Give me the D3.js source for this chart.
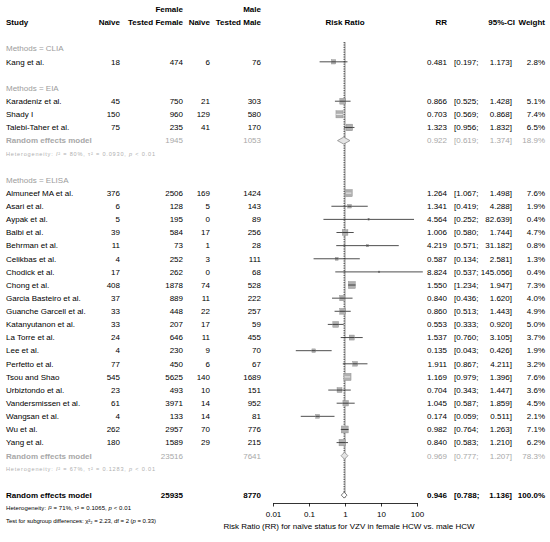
<!DOCTYPE html>
<html>
<head>
<meta charset="utf-8">
<script src="https://cdn.jsdelivr.net/npm/d3@7.9.0/dist/d3.min.js"></script>
<style>
  body { margin: 0; background: #fff; }
  svg { display: block; font-family: "Liberation Sans", Arial, sans-serif; }
</style>
</head>
<body>
<script>
// study level data
const studyNames = ["Kang et al.",
  "Karadeniz et al.", "Shady I", "Talebi-Taher et al.",
  "Almuneef MA et al.", "Asari et al.", "Aypak et al.", "Balbi et al.", "Behrman et al.",
  "Celikbas et al.", "Chodick et al.", "Chong et al.", "Garcia Basteiro et al.",
  "Guanche Garcell et al.", "Katanyutanon et al.", "La Torre et al.", "Lee et al.",
  "Perfetto et al.", "Tsou and Shao", "Urbiztondo et al.", "Vandersmissen et al.",
  "Wangsan et al.", "Wu et al.", "Yang et al."];
const studyMethod = ["CLIA", "EIA", "EIA", "EIA",
  "ELISA", "ELISA", "ELISA", "ELISA", "ELISA", "ELISA", "ELISA", "ELISA", "ELISA", "ELISA",
  "ELISA", "ELISA", "ELISA", "ELISA", "ELISA", "ELISA", "ELISA", "ELISA", "ELISA", "ELISA"];
const naiveFemale = [18, 45, 150, 75, 376, 6, 5, 39, 11, 4, 17, 408, 37, 33, 33, 24, 4, 77, 545, 23, 61, 4, 262, 180];
const testedFemale = [474, 750, 960, 235, 2506, 128, 195, 584, 73, 252, 262, 1878, 889, 448, 207, 646, 230, 450, 5625, 493, 3971, 133, 2957, 1589];
const naiveMale = [6, 21, 129, 41, 169, 5, 0, 17, 1, 3, 0, 74, 11, 22, 17, 11, 9, 6, 140, 10, 14, 14, 70, 29];
const testedMale = [76, 303, 580, 170, 1424, 143, 89, 256, 28, 111, 68, 528, 222, 257, 59, 455, 70, 67, 1689, 151, 952, 81, 776, 215];
const riskRatio = [0.481, 0.866, 0.703, 1.323, 1.264, 1.341, 4.564, 1.006, 4.219, 0.587, 8.824, 1.550,
  0.840, 0.860, 0.553, 1.537, 0.135, 1.911, 1.169, 0.704, 1.045, 0.174, 0.982, 0.840];
const ciLower = [0.197, 0.525, 0.569, 0.956, 1.067, 0.419, 0.252, 0.580, 0.571, 0.134, 0.537, 1.234,
  0.436, 0.513, 0.333, 0.760, 0.043, 0.867, 0.979, 0.343, 0.587, 0.059, 0.764, 0.583];
const ciUpper = [1.173, 1.428, 0.868, 1.832, 1.498, 4.288, 82.639, 1.744, 31.182, 2.581, 145.056, 1.947,
  1.620, 1.443, 0.920, 3.105, 0.426, 4.211, 1.396, 1.447, 1.859, 0.511, 1.263, 1.210];
const weightPct = [2.8, 5.1, 7.4, 6.5, 7.6, 1.9, 0.4, 4.7, 0.8, 1.3, 0.4, 7.3,
  4.0, 4.9, 5.0, 3.7, 1.9, 3.2, 7.6, 3.6, 4.5, 2.1, 7.1, 6.2];

// subgroup summaries (CLIA has a single study, no summary)
const methods = ["CLIA", "EIA", "ELISA"];
const subMethods = ["EIA", "ELISA"];
const subTestedFemale = [1945, 23516];
const subTestedMale = [1053, 7641];
const subRR = [0.922, 0.969];
const subLower = [0.619, 0.777];
const subUpper = [1.374, 1.207];
const subWeight = [18.9, 78.3];
const subI2 = ["80%", "67%"];
const subTau2 = ["0.0930", "0.1283"];

// overall random effects model
const overallTested = [25935, 8770];
const overallCI = [0.946, 0.788, 1.136];
const overallHet = ["71%", "0.1065"];
const subgroupTest = ["2.23", "2", "0.33"];

const tickValues = [0.01, 0.1, 1, 10, 100];

const width = 550, height = 542;
const svg = d3.select("body").append("svg")
  .attr("width", width)
  .attr("height", height);

const fmt3 = d3.format(".3f");
const fmtW = d => d3.format(".1f")(d) + "%";

// rows
const y = d3.scaleLinear().domain([0, 39]).range([9.3, 9.3 + 13.13 * 39]);
const x = d3.scaleLog().domain([0.01, 100]).range([273, 417]);

const col = { study: 6, nf: 120, tf: 183, nm: 210, tm: 261, rr: 447, lo: 454, up: 512, w: 545 };
const grayLabel = "#9c9c9c", grayRow = "#a8a8a8", grayHet = "#b0b0b0";

function txt(row, xpos, s, opt = {}) {
  return svg.append("text")
    .attr("x", xpos)
    .attr("y", y(row))
    .attr("dy", "0.35em")
    .attr("text-anchor", opt.anchor || "start")
    .attr("font-size", opt.size || 8)
    .attr("font-weight", opt.bold ? "bold" : null)
    .attr("fill", opt.color || "#000")
    .text(s);
}

// header
txt(0, col.tf, "Female", { anchor: "end", bold: true });
txt(0, col.tm, "Male", { anchor: "end", bold: true });
txt(1, col.study, "Study", { bold: true });
txt(1, col.nf, "Naïve", { anchor: "end", bold: true });
txt(1, col.tf, "Tested Female", { anchor: "end", bold: true });
txt(1, col.nm, "Naïve", { anchor: "end", bold: true });
txt(1, col.tm, "Tested Male", { anchor: "end", bold: true });
txt(1, x(1), "Risk Ratio", { anchor: "middle", bold: true });
txt(1, col.rr, "RR", { anchor: "end", bold: true });
txt(1, 515, "95%-CI", { anchor: "end", bold: true });
txt(1, col.w, "Weight", { anchor: "end", bold: true });

// reference lines
const plotTop = 42, plotBottom = 498;
svg.append("line")
  .attr("x1", x(1)).attr("x2", x(1))
  .attr("y1", plotTop).attr("y2", plotBottom)
  .attr("stroke", "#444").attr("stroke-width", 0.6);
svg.append("line")
  .attr("x1", x(overallCI[0])).attr("x2", x(overallCI[0]))
  .attr("y1", plotTop).attr("y2", plotBottom)
  .attr("stroke", "#000").attr("stroke-width", 0.8)
  .attr("stroke-dasharray", "1.2,1.2");

function ciText(row, est, lo, up, w, opt) {
  txt(row, col.rr, fmt3(est), { ...opt, anchor: "end" });
  txt(row, col.lo, "[" + fmt3(lo) + ";", opt);
  txt(row, col.up, fmt3(up) + "]", { ...opt, anchor: "end" });
  txt(row, col.w, fmtW(w), { ...opt, anchor: "end" });
}

function diamond(row, est, lo, up, h, stroke, fill) {
  const cy = y(row);
  const pts = [[x(lo), cy], [x(est), cy - h], [x(up), cy], [x(est), cy + h]];
  svg.append("path")
    .attr("d", d3.line()(pts) + "Z")
    .attr("fill", fill)
    .attr("stroke", stroke)
    .attr("stroke-width", 0.8);
}

function hetText(row, i2, tau2, color, size, len) {
  const t = svg.append("text")
    .attr("x", col.study).attr("y", y(row)).attr("dy", "0.35em")
    .attr("font-size", size).attr("fill", color)
    .attr("textLength", len).attr("lengthAdjust", "spacing");
  t.append("tspan").text("Heterogeneity: ");
  t.append("tspan").attr("font-style", "italic").text("I");
  t.append("tspan").text("² = " + i2 + ", τ² = " + tau2 + ", ");
  t.append("tspan").attr("font-style", "italic").text("p");
  t.append("tspan").text(" < 0.01");
}

const maxSide = 7.2;
let row = 3;
methods.forEach(m => {
  txt(row, col.study, "Methods = " + m, { color: grayLabel });
  row++;
  studyNames.forEach((name, i) => {
    if (studyMethod[i] !== m) return;
    txt(row, col.study, name);
    txt(row, col.nf, naiveFemale[i], { anchor: "end" });
    txt(row, col.tf, testedFemale[i], { anchor: "end" });
    txt(row, col.nm, naiveMale[i], { anchor: "end" });
    txt(row, col.tm, testedMale[i], { anchor: "end" });
    ciText(row, riskRatio[i], ciLower[i], ciUpper[i], weightPct[i], {});

    const cy = y(row), cx = x(riskRatio[i]);
    const side = maxSide * Math.sqrt(weightPct[i] / 7.6);
    const x0 = x(ciLower[i]), x1 = x(ciUpper[i]);
    const inside = x0 >= cx - side / 2 && x1 <= cx + side / 2;
    if (!inside) {
      svg.append("line")
        .attr("x1", x0).attr("x2", x1).attr("y1", cy).attr("y2", cy)
        .attr("stroke", "#222").attr("stroke-width", 0.8);
    }
    svg.append("rect")
      .attr("x", cx - side / 2).attr("y", cy - side / 2)
      .attr("width", side).attr("height", side)
      .attr("fill", "#b0b0b0").attr("stroke", "#8a8a8a").attr("stroke-width", 0.4);
    svg.append("line")
      .attr("x1", Math.max(x0, cx - side / 2)).attr("x2", Math.min(x1, cx + side / 2))
      .attr("y1", cy).attr("y2", cy)
      .attr("stroke", inside ? "#fff" : "#222").attr("stroke-width", 0.8);
    row++;
  });
  const k = subMethods.indexOf(m);
  if (k >= 0) {
    txt(row, col.study, "Random effects model", { color: grayRow, bold: true });
    txt(row, col.tf, subTestedFemale[k], { anchor: "end", color: grayRow });
    txt(row, col.tm, subTestedMale[k], { anchor: "end", color: grayRow });
    ciText(row, subRR[k], subLower[k], subUpper[k], subWeight[k], { color: grayRow });
    diamond(row, subRR[k], subLower[k], subUpper[k], 3.5, "#8c8c8c", "#e4e4e4");
    row++;
    hetText(row, subI2[k], subTau2[k], grayHet, 5.6, 149);
    row++;
  }
  row++;
});

// overall
txt(row, col.study, "Random effects model", { bold: true });
txt(row, col.tf, overallTested[0], { anchor: "end", bold: true });
txt(row, col.tm, overallTested[1], { anchor: "end", bold: true });
ciText(row, overallCI[0], overallCI[1], overallCI[2], 100, { bold: true });
diamond(row, overallCI[0], overallCI[1], overallCI[2], 3, "#555", "#fff");
row++;
hetText(row, overallHet[0], overallHet[1], "#000", 6, 125);
row++;
const tt = svg.append("text")
  .attr("x", col.study).attr("y", y(row)).attr("dy", "0.35em")
  .attr("font-size", 6).attr("textLength", 150).attr("lengthAdjust", "spacing");
tt.append("tspan").text("Test for subgroup differences: χ²₂ = " + subgroupTest[0] + ", df = " + subgroupTest[1] + " (");
tt.append("tspan").attr("font-style", "italic").text("p");
tt.append("tspan").text(" = " + subgroupTest[2] + ")");

// axis
const axis = svg.append("g")
  .attr("transform", "translate(0,503)")
  .call(d3.axisBottom(x)
    .tickValues(tickValues)
    .tickFormat(d => String(d))
    .tickSize(3.5)
    .tickSizeOuter(0)
    .tickPadding(5));
axis.select(".domain").attr("stroke", "#000").attr("stroke-width", 0.8);
axis.selectAll(".tick line").attr("stroke", "#000").attr("stroke-width", 0.8);
axis.selectAll(".tick text")
  .attr("font-size", 8)
  .attr("font-family", "Liberation Sans, Arial, sans-serif")
  .attr("fill", "#000");

svg.append("text")
  .attr("x", 349).attr("y", 529)
  .attr("text-anchor", "middle")
  .attr("font-size", 8)
  .text("Risk Ratio (RR) for naïve status for VZV in female HCW vs. male HCW");
</script>
</body>
</html>
